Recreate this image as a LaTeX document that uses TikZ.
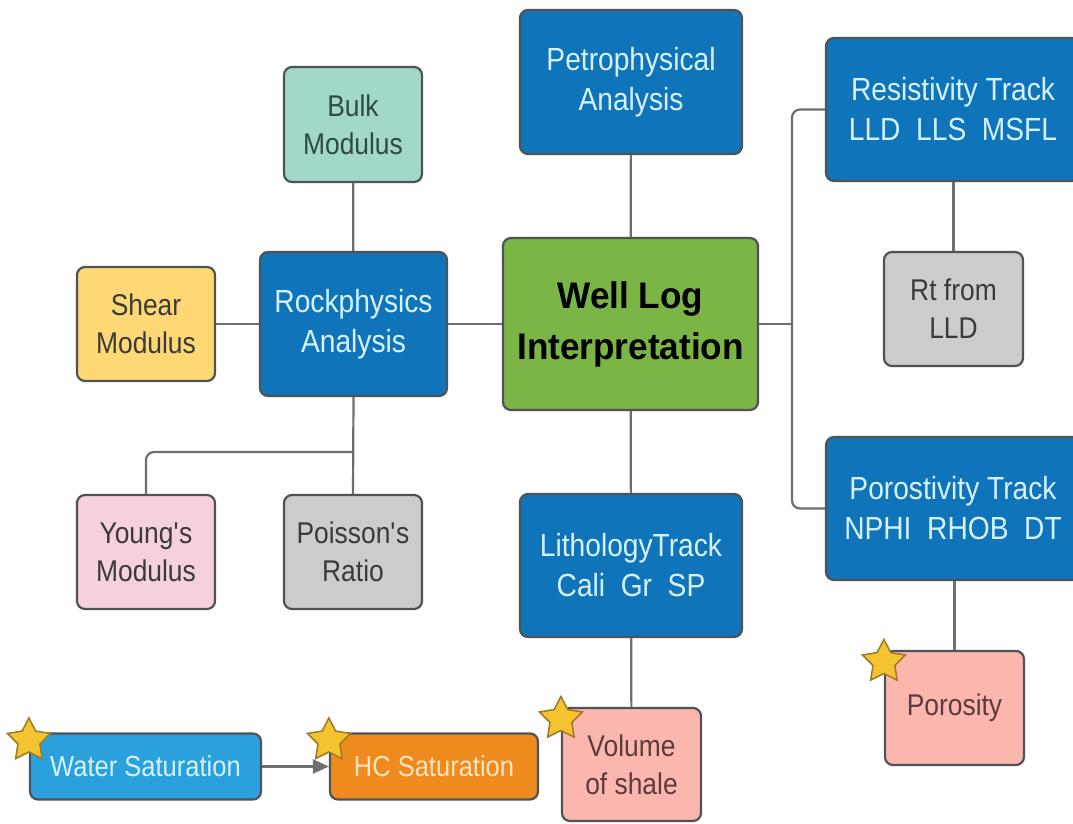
\documentclass[tikz,border=0pt]{standalone}
\usepackage{fontspec}
\setmainfont{Liberation Sans}[FakeStretch=0.88]
\newfontfamily\titlefont{Liberation Sans}[FakeStretch=0.95]
\usetikzlibrary{shapes.geometric,arrows.meta}

\definecolor{boxblue}{HTML}{0F74BA}
\definecolor{bluetext}{HTML}{D6F1FF}
\definecolor{boxgreen}{HTML}{7AB546}
\definecolor{boxteal}{HTML}{A2D8CC}
\definecolor{boxyellow}{HTML}{FDD874}
\definecolor{boxpink}{HTML}{F7D0DD}
\definecolor{boxgrey}{HTML}{CCCCCC}
\definecolor{boxsalmon}{HTML}{FBB7AE}
\definecolor{boxwater}{HTML}{2AA1DC}
\definecolor{boxorange}{HTML}{EF8A1E}
\definecolor{orangetext}{HTML}{FFE6BF}
\definecolor{edgegrey}{HTML}{4F5357}
\definecolor{linegrey}{HTML}{6E6E6E}
\definecolor{darktext}{HTML}{3A3A3A}
\definecolor{tealtext}{HTML}{2D4A44}
\definecolor{salmontext}{HTML}{5E3B3B}
\definecolor{stargold}{HTML}{F5C230}
\definecolor{staredge}{HTML}{9C7A2A}

\begin{document}
\begin{tikzpicture}[x=1pt,y=-1pt,
  box/.style={draw=edgegrey, line width=2.2pt, rounded corners=8pt,
    align=center, inner sep=0pt, font=\fontsize{30}{38}\selectfont},
  bluebox/.style={box, fill=boxblue, text=bluetext, font=\fontsize{32}{40}\selectfont},
  lightbox/.style={box, text=darktext},
  flatbox/.style={box, minimum height=66pt, font=\fontsize{29}{36}\selectfont},
  big/.style={minimum width=222pt, minimum height=144pt},
  wide/.style={minimum width=254pt, minimum height=143pt},
  small/.style={minimum width=138pt, minimum height=114pt},
  conn/.style={draw=linegrey, line width=2.2pt},
  starmark/.style={star, star points=5, star point ratio=1.95,
    minimum size=45pt, inner sep=0pt, fill=stargold, draw=staredge,
    line width=1.5pt}
]
\useasboundingbox (0,0) rectangle (1073,823);
\fill[white] (0,0) rectangle (1073,823);
\clip (0,0) rectangle (1073,823);

% main topic and analysis branches
\node[box, fill=boxgreen, text=black, minimum width=255pt, minimum height=172pt,
  font=\titlefont\bfseries\fontsize{37}{51}\selectfont] (well) at (630.5,324)
  {Well Log\\Interpretation};
\node[bluebox, big] (petro) at (631,82) {Petrophysical\\Analysis};
\node[bluebox, minimum width=187pt, minimum height=144pt] (rock) at (353.5,324)
  {Rockphysics\\Analysis};
\node[bluebox, big, minimum height=143pt] (litho) at (631,565.5)
  {LithologyTrack\\Cali\ \ Gr\ \ SP};
\node[bluebox, wide] (resist) at (953,109.5)
  {Resistivity Track\\LLD\ \ LLS\ \ MSFL};
\node[bluebox, wide] (poros) at (953,508.5)
  {Porostivity Track\\NPHI\ \ RHOB\ \ DT};

% elastic moduli
\node[lightbox, small, fill=boxteal, text=tealtext, minimum height=115pt] (bulk) at (353,124.5)
  {Bulk\\Modulus};
\node[lightbox, small, fill=boxyellow] (shear) at (146,324) {Shear\\Modulus};
\node[lightbox, small, fill=boxpink] (young) at (146,552) {Young\textquotesingle s\\Modulus};
\node[lightbox, small, fill=boxgrey] (poisson) at (353,552) {Poisson\textquotesingle s\\Ratio};

% derived quantities
\node[lightbox, small, fill=boxgrey, minimum width=139pt] (rt) at (953.5,309) {Rt from\\LLD};
\node[lightbox, small, fill=boxsalmon, text=salmontext, minimum width=139pt] (porosity) at (954.5,708)
  {Porosity};
\node[lightbox, small, fill=boxsalmon, text=salmontext, minimum width=139pt, minimum height=113pt] (vsh)
  at (631.5,764.5) {Volume\\of shale};
\node[flatbox, fill=boxwater, text=bluetext, minimum width=231pt] (water)
  at (145.5,766.5) {Water Saturation};
\node[flatbox, fill=boxorange, text=orangetext, minimum width=208pt] (hc)
  at (434,766.5) {HC Saturation};

% connectors
\coordinate (bracket) at (792,324);
\coordinate (rsplit) at (353,452);
\draw[conn] (bulk) -- (rock);
\draw[conn] (shear) -- (rock);
\draw[conn] (rock) -- (well);
\draw[conn] (petro) -- (well);
\draw[conn] (well) -- (litho);
\draw[conn] (litho) -- (vsh);
\draw[conn] (well.east) -- (bracket);
\draw[conn, rounded corners=8pt] (resist.west) -| (bracket) |- (poros.west);
\draw[conn] (resist.south -| rt.north) -- (rt.north);
\draw[conn] (poros.south -| porosity.north) -- (porosity.north);
\draw[conn] (rock.south) -- (poisson.north);
\draw[conn, rounded corners=8pt] (rsplit) -| (young.north);
\draw[conn, -{Triangle[length=16pt,width=14pt]}] (water.east) -- (hc.west);

% highlight stars
\node[starmark] (s1) at ([yshift=-8pt]water.north west) {};
\node[starmark] (s2) at ([yshift=-8pt]hc.north west) {};
\node[starmark] (s3) at ([yshift=-12pt]vsh.north west) {};
\node[starmark] (s4) at ([yshift=-12pt]porosity.north west) {};
\end{tikzpicture}
\end{document}
